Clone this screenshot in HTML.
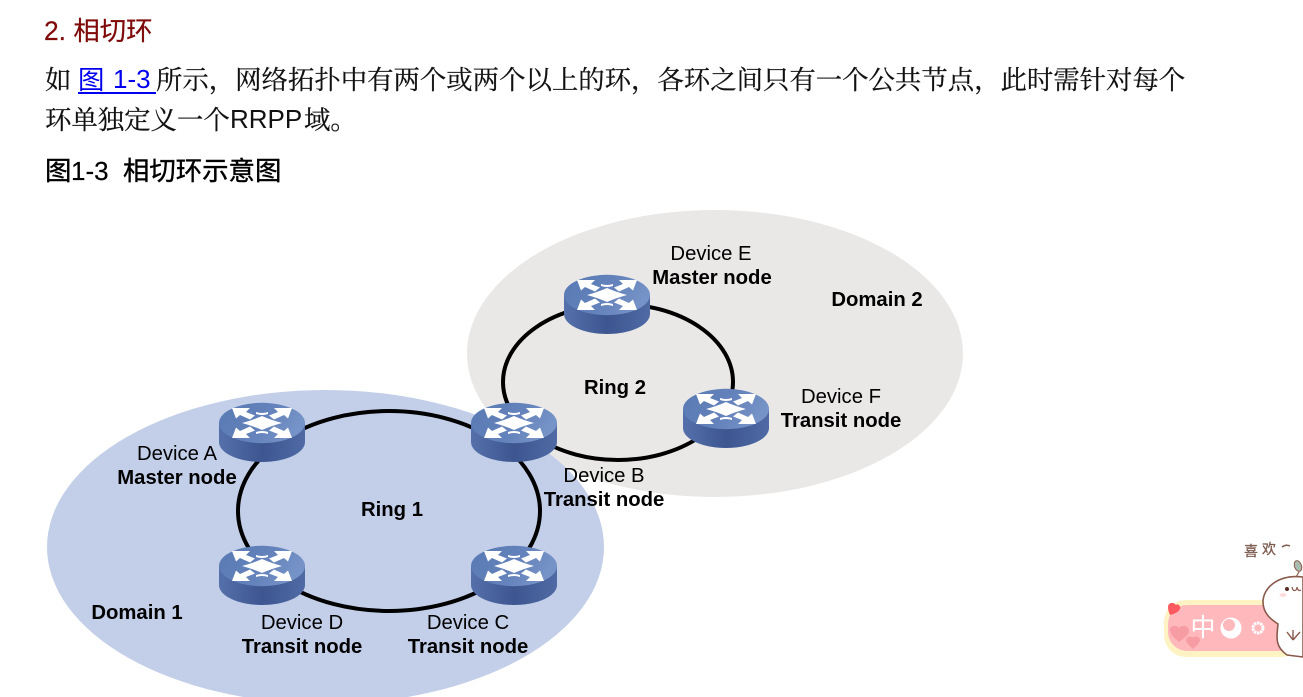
<!DOCTYPE html>
<html lang="zh"><head><meta charset="utf-8"><style>
html,body{margin:0;padding:0;width:1303px;height:697px;overflow:hidden;background:#fff}
svg{display:block}
</style></head><body>
<svg width="1303" height="697" viewBox="0 0 1303 697" xmlns="http://www.w3.org/2000/svg">
<defs>
<linearGradient id="top" x1="0" y1="0" x2="1" y2="0.3"><stop offset="0" stop-color="#587ab3"/><stop offset=".6" stop-color="#6482bb"/><stop offset="1" stop-color="#7593c6"/></linearGradient>
<linearGradient id="side" x1="0" y1="0" x2="1" y2="0"><stop offset="0" stop-color="#5570aa"/><stop offset=".5" stop-color="#3d5691"/><stop offset="1" stop-color="#4f6aa4"/></linearGradient>
<g id="r">
<path d="M-43,0V19A43,20 0 0 0 43,19V0Z" fill="url(#side)"/>
<ellipse rx="43" ry="20.2" fill="url(#top)"/>
<g fill="#fff">
<path d="M-30,-15H-12L-16,-11L-7,-7.5L-12,-3.5L-22,-8L-26,-4.5Z"/>
<path d="M30,-15H12L16,-11L7,-7.5L12,-3.5L22,-8L26,-4.5Z"/>
<path d="M-30,15H-12L-16,11L-7,7.5L-12,3.5L-22,8L-26,4.5Z"/>
<path d="M30,15H12L16,11L7,7.5L12,3.5L22,8L26,4.5Z"/>
<path d="M0,-7Q9,-3 20,0Q9,3 0,7Q-9,3 -20,0Q-9,-3 0,-7Z"/>
<path d="M-6,-11Q0,-9 6,-11L6,-9Q0,-7 -6,-9Z"/>
<path d="M-6,11Q0,9 6,11L6,9Q0,7 -6,9Z"/>
</g>
</g>
</defs>
<g font-family="'Liberation Sans','Noto Sans CJK SC',sans-serif">
<ellipse cx="715" cy="353.5" rx="248" ry="143.5" fill="#e9e8e7"/>
<ellipse cx="325.5" cy="547" rx="278.5" ry="157" fill="#c3cfe9"/>
<g fill="none" stroke="#000" stroke-width="4">
<ellipse cx="618" cy="382" rx="115" ry="78"/>
<ellipse cx="389" cy="511" rx="151" ry="100"/>
</g>
<use href="#r" x="607" y="295"/>
<use href="#r" x="726" y="409"/>
<use href="#r" x="262" y="423"/>
<use href="#r" x="514" y="423"/>
<use href="#r" x="262" y="566"/>
<use href="#r" x="514" y="566"/>

<text x="44" y="40" font-size="26.4" fill="#7f0a0a" stroke="#7f0a0a" stroke-width=".2">2. 相切环</text>
<g font-size="26.4" fill="#111" font-family="'Liberation Sans','Noto Serif CJK SC',serif" stroke="#111" stroke-width=".25">
<text x="45" y="89">如</text>
<text x="78" y="89" fill="#0000ee" stroke="none" font-family="'Noto Sans CJK SC',sans-serif">图</text>
<text x="113" y="88" fill="#0000ee" stroke="none" font-size="26" font-family="'Liberation Sans',sans-serif">1-3</text>
<text x="156" y="89">所示，网络拓扑中有两个或两个以上的环，各环之间只有一个公共节点，此时需针对每个</text>
<text x="45" y="129">环单独定义一个</text>
<text x="230" y="128" font-size="26" stroke="none" font-family="'Liberation Sans',sans-serif">RRPP</text>
<text x="304" y="129">域。</text>
</g>
<rect x="78" y="92" width="78" height="2" fill="#0000ee"/>
<g font-size="26.4" fill="#000" stroke="#000" stroke-width=".4">
<text x="45" y="180">图</text>
<text x="71" y="180" font-size="26" stroke-width=".2">1-3</text>
<text x="123" y="180">相切环示意图</text>
</g>

<g font-size="20.3" fill="#000" text-anchor="middle">
<text x="711" y="260">Device E</text>
<text x="712" y="284" font-weight="700">Master node</text>
<text x="877" y="306" font-weight="700">Domain 2</text>
<text x="615" y="394" font-weight="700">Ring 2</text>
<text x="841" y="403">Device F</text>
<text x="841" y="427" font-weight="700">Transit node</text>
<text x="177" y="460">Device A</text>
<text x="177" y="484" font-weight="700">Master node</text>
<text x="604" y="482">Device B</text>
<text x="604" y="506" font-weight="700">Transit node</text>
<text x="392" y="516" font-weight="700">Ring 1</text>
<text x="137" y="619" font-weight="700">Domain 1</text>
<text x="302" y="629">Device D</text>
<text x="302" y="653" font-weight="700">Transit node</text>
<text x="468" y="629">Device C</text>
<text x="468" y="653" font-weight="700">Transit node</text>
</g>

<!-- corner widget -->
<g font-size="14" fill="#7a5a4e" stroke="#7a5a4e" stroke-width=".3" font-family="'Noto Sans CJK SC',sans-serif">
<text x="1244" y="556">喜</text><text x="1262" y="554">欢</text>
</g>
<path d="M1282,547q4,-3 8,-1" fill="none" stroke="#7a5a4e" stroke-width="1.5"/>
<rect x="1164" y="600" width="139" height="57" rx="22" fill="#fff3c4"/>
<rect x="1168" y="605" width="135" height="46" rx="19" fill="#ffb9bd"/>
<text x="1203" y="636" font-size="25" fill="#fff" text-anchor="middle" font-family="'Noto Sans CJK SC',sans-serif">中</text>
<circle cx="1231" cy="628" r="10.5" fill="#fff"/><circle cx="1229" cy="625" r="6" fill="#ffb9bd"/>
<circle cx="1258" cy="628" r="5" fill="none" stroke="#fff" stroke-width="3" stroke-dasharray="2.5 .7"/>
<path d="M1176,605c-3,-4 -8,-2 -8,2c0,3 1,6 2,8c3,-1 8,-2 10,-6c1,-3 -2,-6 -4,-4Z" fill="#ff5a5f"/>
<path d="M1179,628c-3,-4 -10,-2 -9,3c1,5 7,9 9,11c3,-3 10,-6 10,-11c0,-5 -7,-7 -10,-3Z" fill="#f79ca2"/>
<path d="M1193,638c-2,-3 -7,-1 -7,2c0,3 5,7 7,9c2,-2 7,-6 7,-9c0,-3 -5,-5 -7,-2Z" fill="#f79ca2"/>
<path d="M1303,577C1278,574 1263,588 1263,602C1263,614 1272,620 1278,624C1277,636 1274,646 1287,655L1303,657Z" fill="#fff" stroke="#8a5a4c" stroke-width="1.6"/>
<circle cx="1287" cy="589" r="2" fill="#5a2a20"/>
<path d="M1292,587q1,5 4,3q1,-1 1,-3q1,5 4,3" fill="none" stroke="#8a5a4c" stroke-width="1.2"/>
<ellipse cx="1283" cy="595" rx="3.5" ry="2" fill="#fdd"/>
<path d="M1296,577L1299,572" stroke="#8a5a4c" stroke-width="1.2"/>
<ellipse cx="1298" cy="566" rx="3.5" ry="5.5" transform="rotate(-20 1298 566)" fill="#a8bdb0" stroke="#8a5a4c"/>
<path d="M1293,640V630M1293,640L1287,632M1293,640L1300,632" fill="none" stroke="#8a5a4c" stroke-width="1.4"/>
</g>
</svg>
</body></html>
